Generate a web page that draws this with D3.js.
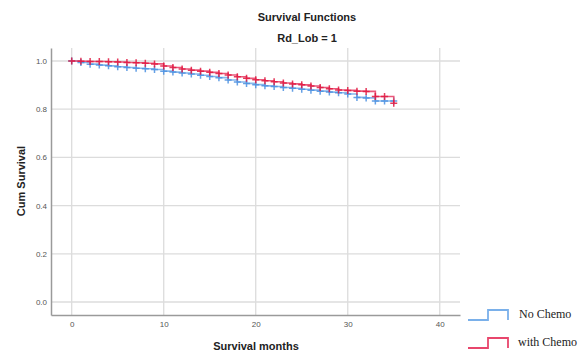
<!DOCTYPE html>
<html>
<head>
<meta charset="utf-8">
<script src="https://cdn.jsdelivr.net/npm/d3@7"></script>
<style>
  html, body { margin: 0; padding: 0; background: #fff; }
  svg { display: block; }
</style>
</head>
<body>
<svg id="chart" width="586" height="354"></svg>
<script>
// Kaplan-Meier estimates, one value per month of follow-up
const months = [0,1,2,3,4,5,6,7,8,9,10,11,12,13,14,15,16,17,18,19,20,21,22,23,24,25,26,27,28,29,30,31,32,33,34,35];
const noChemo = [1.000,0.994,0.987,0.983,0.980,0.976,0.973,0.970,0.968,0.965,0.958,0.954,0.950,0.946,0.941,0.936,0.931,0.921,0.913,0.907,0.902,0.897,0.894,0.890,0.887,0.883,0.879,0.875,0.871,0.868,0.863,0.849,0.847,0.834,0.834,0.834];
const withChemo = [1.000,0.999,0.998,0.998,0.997,0.996,0.994,0.993,0.991,0.988,0.979,0.973,0.967,0.962,0.958,0.953,0.948,0.942,0.935,0.928,0.922,0.918,0.914,0.909,0.905,0.901,0.896,0.890,0.885,0.880,0.878,0.875,0.874,0.853,0.853,0.825];
const xTicks = [0, 10, 20, 30, 40];
const yTicks = [0.0, 0.2, 0.4, 0.6, 0.8, 1.0];
const seriesNames = ["No Chemo", "with Chemo"];

const svg = d3.select("#chart");
const x = d3.scaleLinear().domain([-2.25, 42.2]).range([51, 460]);
const y = d3.scaleLinear().domain([-0.054, 1.054]).range([315, 48]);

const colors = { line: ["#7ab0ea", "#e8466c"], mark: ["#4a8fe0", "#e0173f"] };

// Titles
svg.append("text").attr("x", 307).attr("y", 21).attr("text-anchor", "middle")
  .style("font", "bold 11px 'Liberation Sans', Arial, sans-serif").attr("fill", "#222")
  .text("Survival Functions");
svg.append("text").attr("x", 307).attr("y", 42).attr("text-anchor", "middle")
  .style("font", "bold 11px 'Liberation Sans', Arial, sans-serif").attr("fill", "#222")
  .text("Rd_Lob = 1");

// Grid lines
const grid = svg.append("g");
grid.selectAll(".vg").data(xTicks).join("line")
  .attr("x1", d => x(d)).attr("x2", d => x(d))
  .attr("y1", y.range()[1]).attr("y2", y.range()[0])
  .attr("stroke", "#dcdcdc").attr("stroke-width", 1.3);
grid.selectAll(".hg").data(yTicks).join("line")
  .attr("x1", x.range()[0]).attr("x2", x.range()[1])
  .attr("y1", d => y(d)).attr("y2", d => y(d))
  .attr("stroke", "#dcdcdc").attr("stroke-width", 1.3);

// Axes
const xAxis = svg.append("g").attr("transform", `translate(0,${y.range()[0]})`)
  .call(d3.axisBottom(x).tickValues(xTicks).tickSize(0).tickPadding(6).tickFormat(d3.format("d")));
const yAxis = svg.append("g").attr("transform", `translate(${x.range()[0]},0)`)
  .call(d3.axisLeft(y).tickValues(yTicks).tickSize(0).tickPadding(4).tickFormat(d3.format(".1f")));
[xAxis, yAxis].forEach(a => {
  a.select(".domain").attr("stroke", "#9a9a9a").attr("stroke-width", 1.5);
  a.selectAll("text").style("font", "8px 'Liberation Sans', Arial, sans-serif").attr("fill", "#555");
});

// Axis titles
svg.append("text").attr("x", 256).attr("y", 350).attr("text-anchor", "middle")
  .style("font", "bold 11px 'Liberation Sans', Arial, sans-serif").attr("fill", "#222")
  .text("Survival months");
svg.append("text").attr("transform", "translate(25,181) rotate(-90)").attr("text-anchor", "middle")
  .style("font", "bold 11px 'Liberation Sans', Arial, sans-serif").attr("fill", "#222")
  .text("Cum Survival");

// Survival step curves with censor marks
const line = d3.line().curve(d3.curveStepAfter).x(d => x(d[0])).y(d => y(d[1]));
[noChemo, withChemo].forEach((vals, i) => {
  const pts = months.map((m, k) => [m, vals[k]]);
  const g = svg.append("g");
  g.append("path").attr("d", line(pts)).attr("fill", "none")
    .attr("stroke", colors.line[i]).attr("stroke-width", 1.6).attr("stroke-opacity", 0.9);
  g.selectAll("path.cross").data(pts).join("path").attr("class", "cross")
    .attr("d", d => `M${x(d[0]) - 3.5},${y(d[1])}h7M${x(d[0])},${y(d[1]) - 3.5}v7`)
    .attr("stroke", colors.mark[i]).attr("stroke-width", 1.5).attr("stroke-opacity", 0.85);
});

// Legend
const legend = svg.append("g");
const legendRows = [318, 346];
seriesNames.forEach((name, i) => {
  const yb = legendRows[i] + 2, yt = legendRows[i] - 8;
  legend.append("path")
    .attr("d", `M468,${yb}H488V${yt}H508V${yb}`)
    .attr("fill", "none").attr("stroke", colors.line[i]).attr("stroke-width", 1.8);
  legend.append("text").attr("x", i === 0 ? 519 : 518).attr("y", legendRows[i])
    .style("font", "12px 'Liberation Serif', 'Times New Roman', serif").attr("fill", "#222")
    .text(name);
});
</script>
</body>
</html>
